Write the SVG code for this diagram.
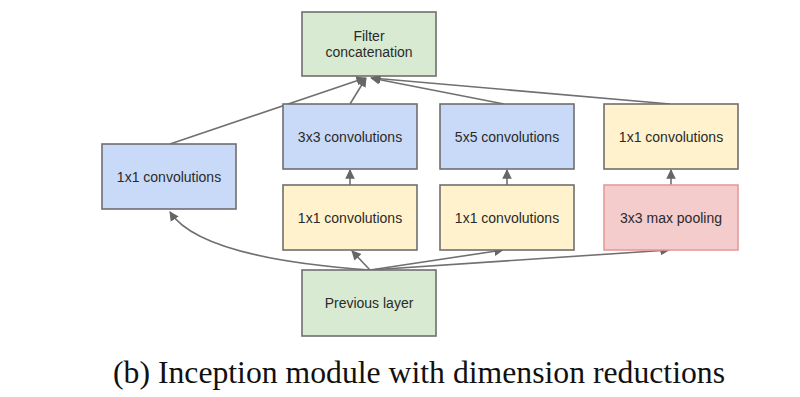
<svg xmlns="http://www.w3.org/2000/svg" width="800" height="397" viewBox="0 0 800 397">
<style>
.box{stroke:#6f6f6f;stroke-width:1.6}
.g{fill:#d9ead3}.b{fill:#c9daf8}.y{fill:#fff2cc}.r{fill:#f4cccc;stroke:#e69a9a}
.t{font-family:"Liberation Sans",Arial,sans-serif;font-size:14px;fill:#2a2a2a;text-anchor:middle}
.e{fill:none;stroke:#707070;stroke-width:1.6}
.cap{font-family:"Liberation Serif","Times New Roman",serif;font-size:31px;fill:#111}
</style>
<defs>
<marker id="ah" viewBox="0 0 10 10" refX="9" refY="5" markerWidth="6" markerHeight="6" orient="auto" markerUnits="strokeWidth">
<path d="M0,0 L10,5 L0,10 z" fill="#666"/>
</marker>
</defs>
<rect width="800" height="397" fill="#fff"/>
<g id="connectors">
<path class="e" d="M170,144 L365,78" marker-end="url(#ah)"/>
<path class="e" d="M350,104 L366,78" marker-end="url(#ah)"/>
<path class="e" d="M504,104 L371,78" marker-end="url(#ah)"/>
<path class="e" d="M670,104 L372,78" marker-end="url(#ah)"/>
<path class="e" d="M350,185 L350,170" marker-end="url(#ah)"/>
<path class="e" d="M507,185 L507,170" marker-end="url(#ah)"/>
<path class="e" d="M671,185 L671,170" marker-end="url(#ah)"/>
<path class="e" d="M370,270 Q200,258 170,212" marker-end="url(#ah)"/>
<path class="e" d="M370,270 L352,251" marker-end="url(#ah)"/>
<path class="e" d="M370,270 L503,250" marker-end="url(#ah)"/>
<path class="e" d="M370,270 L669,250" marker-end="url(#ah)"/>
</g>
<g id="filter-concat">
<rect class="box g" x="302" y="12" width="134" height="64"/>
<text class="t" x="369" y="41">Filter</text>
<text class="t" x="369" y="57">concatenation</text>
</g>
<g id="conv1x1-a">
<rect class="box b" x="102" y="144" width="134" height="65"/>
<text class="t" x="169" y="182">1x1 convolutions</text>
</g>
<g id="conv3x3">
<rect class="box b" x="283" y="104" width="134" height="65"/>
<text class="t" x="350" y="142">3x3 convolutions</text>
</g>
<g id="conv5x5">
<rect class="box b" x="440" y="104" width="134" height="65"/>
<text class="t" x="507" y="142">5x5 convolutions</text>
</g>
<g id="conv1x1-d">
<rect class="box y" x="604" y="104" width="134" height="65"/>
<text class="t" x="671" y="142">1x1 convolutions</text>
</g>
<g id="conv1x1-b">
<rect class="box y" x="283" y="185" width="134" height="65"/>
<text class="t" x="350" y="223">1x1 convolutions</text>
</g>
<g id="conv1x1-c">
<rect class="box y" x="440" y="185" width="134" height="65"/>
<text class="t" x="507" y="223">1x1 convolutions</text>
</g>
<g id="maxpool">
<rect class="box r" x="604" y="185" width="134" height="65"/>
<text class="t" x="671" y="223">3x3 max pooling</text>
</g>
<g id="previous-layer">
<rect class="box g" x="302" y="270" width="134" height="66"/>
<text class="t" x="369" y="308">Previous layer</text>
</g>
<text class="cap" x="113" y="383" textLength="612" lengthAdjust="spacingAndGlyphs">(b) Inception module with dimension reductions</text>
</svg>
